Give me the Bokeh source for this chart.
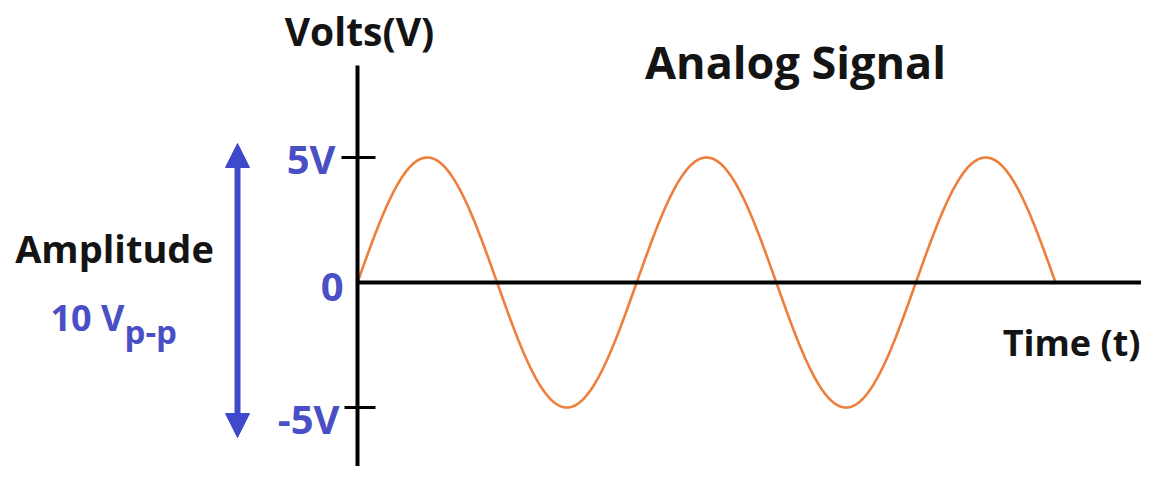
import numpy as np
from bokeh.plotting import figure
from bokeh.models import Arrow, NormalHead, ColumnDataSource
from bokeh.core.properties import value
from bokeh.embed import file_html
from bokeh.resources import INLINE

# ---- data ----
amplitude_v = 5.0          # peak voltage (V)
cycles = 2.5               # number of periods drawn
tick_values = [5, 0, -5]
tick_labels = ["5V", "0", "-5V"]
title_text = "Analog Signal"
y_axis_label = "Volts(V)"
x_axis_label = "Time (t)"
amp_label = "Amplitude"
amp_value_label = "10 V"
amp_sub_label = "p-p"

FONT = "Open Sans"
BLUE = "#4a4fc6"
ARROW_BLUE = "#3f49cc"
ORANGE = "#ee7f3b"
INK = "#141414"

W, H = 1141, 466
px_per_period = 279.2      # pixels per period
px_per_volt = 25.0         # pixels per volt
ORX, ORY = 357, 282        # origin in pixels

x_start = (0 - ORX) / px_per_period
x_end = (W - ORX) / px_per_period
y_end = ORY / px_per_volt
y_start = (ORY - H) / px_per_volt

p = figure(width=W, height=H, x_range=(x_start, x_end), y_range=(y_start, y_end),
           output_backend="svg", toolbar_location=None, min_border=0,
           background_fill_color="white", border_fill_color="white")
p.axis.visible = False
p.grid.visible = False
p.outline_line_color = None

def px_x(px):
    return (px - ORX) / px_per_period

def px_y(py):
    return (ORY - py) / px_per_volt

# signal
t = np.linspace(0, cycles, 600)
v = amplitude_v * np.sin(2 * np.pi * t)
p.line(t, v, line_color=ORANGE, line_width=2.6)

# axes lines
p.segment(x0=[0], y0=[px_y(65)], x1=[0], y1=[y_start], line_color="black", line_width=4)
p.segment(x0=[0], y0=[0], x1=[px_x(1143)], y1=[0], line_color="black", line_width=4)

# tick marks at +-5V
tick_src = ColumnDataSource(dict(
    x0=[px_x(341), px_x(344)], x1=[px_x(375), px_x(375)],
    y=[tick_values[0], tick_values[2]]))
p.segment(x0="x0", y0="y", x1="x1", y1="y", source=tick_src, line_color="black", line_width=3)

# tick labels
p.text(x=[px_x(335), px_x(343), px_x(339)], y=tick_values, text=tick_labels,
       text_align="right", text_baseline="middle", text_font=value(FONT),
       text_font_style="bold", text_font_size="40px", text_color=BLUE,
       y_offset=[1, 4, 11])

# axis labels and title
p.text(x=[px_x(359)], y=[px_y(30)], text=[y_axis_label], text_align="center",
       text_baseline="middle", text_font=value(FONT), text_font_style="bold",
       text_font_size="39px", text_color=INK)
p.text(x=[px_x(795)], y=[px_y(61)], text=[title_text], text_align="center",
       text_baseline="middle", text_font=value(FONT), text_font_style="bold",
       text_font_size="45px", text_color=INK)
p.text(x=[px_x(1140)], y=[px_y(342)], text=[x_axis_label], text_align="right",
       text_baseline="middle", text_font=value(FONT), text_font_style="bold",
       text_font_size="36px", text_color=INK)

# amplitude annotation
p.text(x=[px_x(114)], y=[px_y(247)], text=[amp_label], text_align="center",
       text_baseline="middle", text_font=value(FONT), text_font_style="bold",
       text_font_size="38px", text_color=INK)
p.text(x=[px_x(50)], y=[px_y(317)], text=[amp_value_label], text_align="left",
       text_baseline="alphabetic", text_font=value(FONT), text_font_style="bold",
       text_font_size="36px", text_color=BLUE)
p.text(x=[px_x(124)], y=[px_y(331)], text=[amp_sub_label], text_align="left",
       text_baseline="alphabetic", text_font=value(FONT), text_font_style="bold",
       text_font_size="33px", text_color=BLUE)

arrow = Arrow(x_start=px_x(237), y_start=px_y(437), x_end=px_x(237), y_end=px_y(143),
              line_color=ARROW_BLUE, line_width=6,
              start=NormalHead(size=24, fill_color=ARROW_BLUE, line_color=ARROW_BLUE),
              end=NormalHead(size=24, fill_color=ARROW_BLUE, line_color=ARROW_BLUE))
p.add_layout(arrow)

open("out.html", "w").write(file_html(p, INLINE))
